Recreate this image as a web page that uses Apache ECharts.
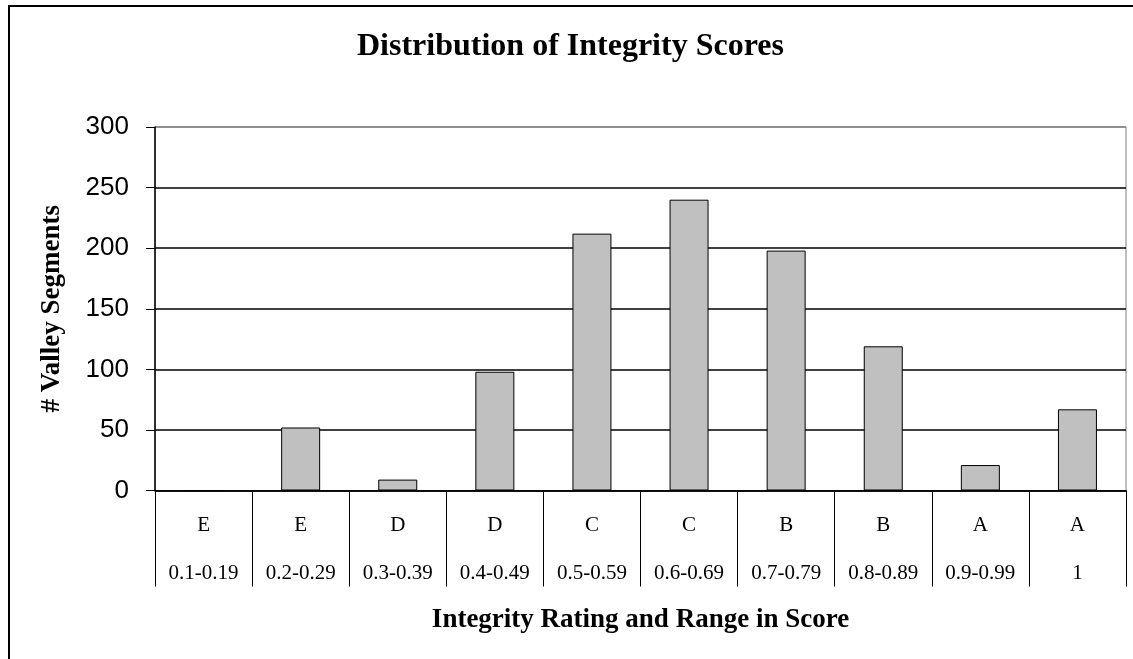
<!DOCTYPE html>
<html>
<head>
<meta charset="utf-8">
<script src="https://cdn.jsdelivr.net/npm/echarts@6/dist/echarts.min.js"></script>
<style>html,body{margin:0;padding:0;background:#fff;}#c{width:1133px;height:659px;}</style>
</head>
<body>
<div id="c"></div>
<script>
var ratings = ['E','E','D','D','C','C','B','B','A','A'];
var ranges = ['0.1-0.19','0.2-0.29','0.3-0.39','0.4-0.49','0.5-0.59','0.6-0.69','0.7-0.79','0.8-0.89','0.9-0.99','1'];
var counts = [0, 52, 9, 98, 212, 240, 198, 119, 21, 67];
var yTicks = {min: 0, max: 300, interval: 50};

var serif = "'Liberation Serif', 'Times New Roman', serif";
var sans = "'Liberation Sans', Arial, sans-serif";
var chart = echarts.init(document.getElementById('c'));
chart.setOption({
  animation: false,
  backgroundColor: '#fff',
  title: {
    text: 'Distribution of Integrity Scores',
    left: 357, top: 31, padding: 0,
    textStyle: {fontFamily: serif, fontWeight: 'bold', fontSize: 32, color: '#000'}
  },
  graphic: [{
    type: 'rect', shape: {x: 9, y: 6, width: 1200, height: 700},
    style: {fill: 'none', stroke: '#000', lineWidth: 2}, silent: true
  }],
  grid: {left: 155, right: 7, top: 127, bottom: 168.5, show: true, borderColor: '#808080', borderWidth: 1, backgroundColor: 'transparent'},
  xAxis: {
    type: 'category',
    data: ranges,
    boundaryGap: true,
    axisLine: {lineStyle: {color: '#000', width: 1.5}},
    axisTick: {show: true, interval: 0, length: 96, lineStyle: {color: '#000', width: 1}},
    axisLabel: {
      interval: 0, margin: 11,
      formatter: function (v, i) { return '{a|' + ratings[i] + '}\n{b|' + v + '}'; },
      rich: {
        a: {fontFamily: serif, fontSize: 21, color: '#000', lineHeight: 48},
        b: {fontFamily: serif, fontSize: 21, color: '#000', lineHeight: 48}
      }
    },
    name: 'Integrity Rating and Range in Score',
    nameLocation: 'middle', nameGap: 116,
    nameTextStyle: {fontFamily: serif, fontWeight: 'bold', fontSize: 27, color: '#000'}
  },
  yAxis: {
    type: 'value', min: yTicks.min, max: yTicks.max, interval: yTicks.interval,
    axisLine: {show: true, lineStyle: {color: '#000', width: 1.5}},
    axisTick: {show: true, length: 9, lineStyle: {color: '#000'}},
    axisLabel: {margin: 26, fontFamily: sans, fontSize: 26, color: '#000'},
    splitLine: {show: true, lineStyle: {color: ['#000','#000','#000','#000','#000','#000','#808080'], width: 1.5}},
    name: '# Valley Segments',
    nameLocation: 'middle', nameGap: 89,
    nameTextStyle: {fontFamily: serif, fontWeight: 'bold', fontSize: 27, color: '#000'}
  },
  series: [{
    type: 'bar',
    data: counts,
    barWidth: 39,
    itemStyle: {color: '#c0c0c0', borderColor: '#000', borderWidth: 1}
  }]
});
</script>
</body>
</html>
